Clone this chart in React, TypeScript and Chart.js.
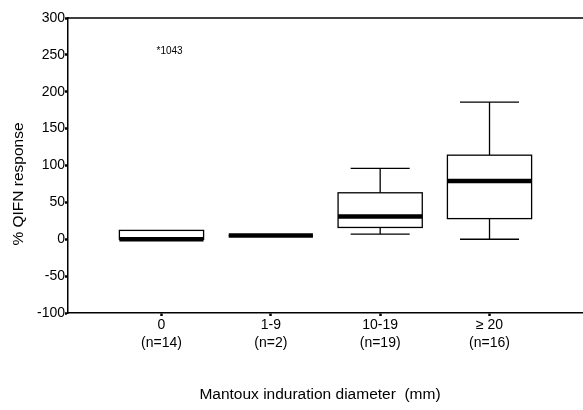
import React, { useEffect, useRef } from "react";
import { Chart, registerables } from "chart.js";

Chart.register(...registerables);

const categories = ["0", "1-9", "10-19", "\u2265 20"];
const nLabels = ["(n=14)", "(n=2)", "(n=19)", "(n=16)"];
const whiskerLow = [0, 5, 7, 0];
const q1 = [0, 5, 16, 28];
const median = [0, 5, 31, 79];
const q3 = [12, 5, 63, 114];
const whiskerHigh = [12, 5, 96, 186];
const outlierCat = [0];
const outlierValue = [255];
const outlierLabel = ["1043"];

const yTitle = "% QIFN response";
const xTitle = "Mantoux induration diameter  (mm)";
const FONT = "'Liberation Sans', Arial, sans-serif";

const boxPlugin = {
  id: "boxplot",
  afterDatasetsDraw(chart: any) {
    const { ctx, chartArea } = chart;
    const xs = chart.scales.x;
    const ys = chart.scales.y;
    ctx.save();
    ctx.strokeStyle = "#000";
    // top frame line
    ctx.lineWidth = 1.5;
    ctx.beginPath();
    ctx.moveTo(chartArea.left, chartArea.top);
    ctx.lineTo(chartArea.right, chartArea.top);
    ctx.stroke();

    const unit = xs.getPixelForValue(1) - xs.getPixelForValue(0);
    const boxHalf = unit * 0.385;
    const capHalf = unit * 0.27;
    for (let i = 0; i < categories.length; i++) {
      const cx = xs.getPixelForValue(i);
      const yLo = ys.getPixelForValue(whiskerLow[i]);
      const yHi = ys.getPixelForValue(whiskerHigh[i]);
      const yQ1 = ys.getPixelForValue(q1[i]);
      const yQ3 = ys.getPixelForValue(q3[i]);
      const yMed = ys.getPixelForValue(median[i]);
      ctx.lineWidth = 1.3;
      // whiskers
      if (whiskerHigh[i] > q3[i]) {
        ctx.beginPath();
        ctx.moveTo(cx, yQ3);
        ctx.lineTo(cx, yHi);
        ctx.moveTo(cx - capHalf, yHi);
        ctx.lineTo(cx + capHalf, yHi);
        ctx.stroke();
      }
      if (whiskerLow[i] < q1[i]) {
        ctx.beginPath();
        ctx.moveTo(cx, yQ1);
        ctx.lineTo(cx, yLo);
        ctx.moveTo(cx - capHalf, yLo);
        ctx.lineTo(cx + capHalf, yLo);
        ctx.stroke();
      }
      // box
      ctx.fillStyle = "#fff";
      ctx.fillRect(cx - boxHalf, yQ3, boxHalf * 2, yQ1 - yQ3);
      ctx.strokeRect(cx - boxHalf, yQ3, boxHalf * 2, yQ1 - yQ3);
      // median
      ctx.lineWidth = 4.5;
      ctx.beginPath();
      ctx.moveTo(cx - boxHalf, yMed);
      ctx.lineTo(cx + boxHalf, yMed);
      ctx.stroke();
    }

    // outliers
    ctx.fillStyle = "#000";
    ctx.font = `10px ${FONT}`;
    ctx.textAlign = "left";
    ctx.textBaseline = "middle";
    for (let k = 0; k < outlierCat.length; k++) {
      const px = xs.getPixelForValue(outlierCat[k]) - 5;
      const py = ys.getPixelForValue(outlierValue[k]);
      ctx.fillText("*" + outlierLabel[k], px, py);
    }

    // axis titles
    ctx.font = `15.5px ${FONT}`;
    ctx.textAlign = "center";
    ctx.textBaseline = "middle";
    ctx.fillText(xTitle, 320, 395);
    ctx.translate(19, 184);
    ctx.rotate(-Math.PI / 2);
    ctx.fillText(yTitle, 0, 0);
    ctx.restore();
  },
};

export default function App() {
  const ref = useRef<HTMLCanvasElement>(null);
  useEffect(() => {
    document.body.style.margin = "0";
    const canvas = ref.current!;
    const chart = new Chart(canvas, {
      type: "scatter",
      data: {
        datasets: [
          {
            data: outlierCat.map((c, k) => ({ x: c, y: outlierValue[k] })),
            pointRadius: 0,
            showLine: false,
          },
        ],
      },
      options: {
        animation: false,
        responsive: false,
        events: [],
        layout: { padding: { top: 18, left: 0, right: 0, bottom: 0 } },
        plugins: { legend: { display: false }, tooltip: { enabled: false } },
        scales: {
          x: {
            type: "linear",
            min: -0.855,
            max: 3.855,
            afterFit: (s: any) => {
              s.height = 97;
            },
            afterBuildTicks: (s: any) => {
              s.ticks = categories.map((_, i) => ({ value: i }));
            },
            grid: {
              drawOnChartArea: false,
              drawTicks: true,
              tickLength: 3,
              tickWidth: 2.5,
              tickColor: "#000",
            },
            border: { display: true, color: "#000", width: 1.5 },
            ticks: {
              color: "#000",
              padding: 0,
              maxRotation: 0,
              autoSkip: false,
              font: { family: FONT, size: 14, lineHeight: 1.3 },
              callback: (v: any) => [categories[v], nLabels[v]],
            },
          },
          y: {
            type: "linear",
            min: -100,
            max: 300,
            afterFit: (s: any) => {
              s.width = 68;
            },
            grid: {
              drawOnChartArea: false,
              drawTicks: true,
              tickLength: 3,
              tickWidth: 2.5,
              tickColor: "#000",
            },
            border: { display: true, color: "#000", width: 1.5 },
            ticks: {
              color: "#000",
              padding: 0,
              stepSize: 50,
              font: { family: FONT, size: 14 },
            },
          },
        },
      },
      plugins: [boxPlugin],
    } as any);
    return () => chart.destroy();
  }, []);
  return <canvas ref={ref} width={583} height={410} style={{ display: "block" }} />;
}
